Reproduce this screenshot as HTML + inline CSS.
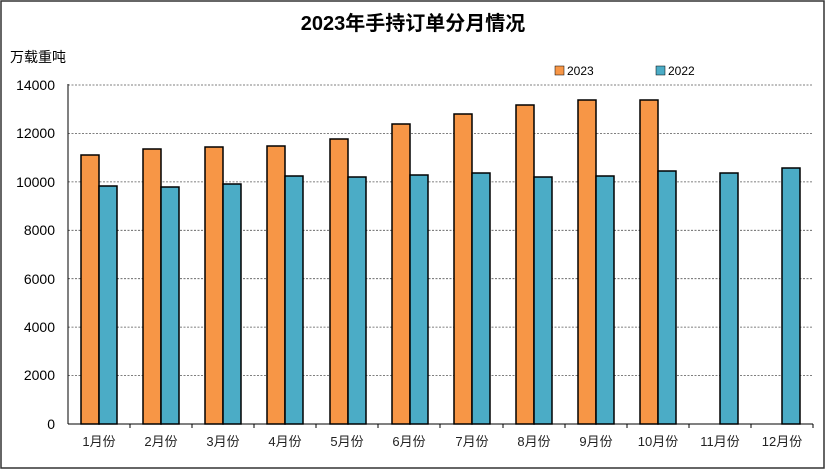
<!DOCTYPE html>
<html><head><meta charset="utf-8"><style>
body{margin:0;background:#fff}
svg{display:block;font-family:"Liberation Sans","Noto Sans CJK SC",sans-serif}
</style></head><body>
<svg width="826" height="469" viewBox="0 0 826 469">
<rect x="1" y="1" width="823" height="467" fill="#fff" stroke="#333" stroke-width="1.5"/>
<text x="413" y="30" text-anchor="middle" font-size="20" font-weight="bold">2023年手持订单分月情况</text>
<text x="10" y="62" font-size="14">万载重吨</text>
<rect x="555" y="66" width="9" height="9" fill="#f79646" stroke="#000" stroke-width="0.5"/>
<text x="567" y="75" font-size="12">2023</text>
<rect x="656" y="66" width="9" height="9" fill="#4bacc6" stroke="#000" stroke-width="0.5"/>
<text x="668" y="75" font-size="12">2022</text>
<g stroke="#555" stroke-width="0.8" stroke-dasharray="2,1.5">
<line x1="68" x2="813" y1="85" y2="85"/><line x1="68" x2="813" y1="133.4" y2="133.4"/>
<line x1="68" x2="813" y1="181.9" y2="181.9"/><line x1="68" x2="813" y1="230.3" y2="230.3"/>
<line x1="68" x2="813" y1="278.7" y2="278.7"/><line x1="68" x2="813" y1="327.1" y2="327.1"/>
<line x1="68" x2="813" y1="375.6" y2="375.6"/>
</g>
<g font-size="14" text-anchor="end">
<text x="55" y="90">14000</text><text x="55" y="138">12000</text><text x="55" y="187">10000</text>
<text x="55" y="235">8000</text><text x="55" y="284">6000</text><text x="55" y="332">4000</text>
<text x="55" y="380">2000</text><text x="55" y="429">0</text>
</g>
<g stroke="#000" stroke-width="1.5">
<rect x="81" y="155" width="18" height="269" fill="#f79646"/><rect x="99" y="186" width="18" height="238" fill="#4bacc6"/>
<rect x="143" y="149" width="18" height="275" fill="#f79646"/><rect x="161" y="187" width="18" height="237" fill="#4bacc6"/>
<rect x="205" y="147" width="18" height="277" fill="#f79646"/><rect x="223" y="184" width="18" height="240" fill="#4bacc6"/>
<rect x="267" y="146" width="18" height="278" fill="#f79646"/><rect x="285" y="176" width="18" height="248" fill="#4bacc6"/>
<rect x="330" y="139" width="18" height="285" fill="#f79646"/><rect x="348" y="177" width="18" height="247" fill="#4bacc6"/>
<rect x="392" y="124" width="18" height="300" fill="#f79646"/><rect x="410" y="175" width="18" height="249" fill="#4bacc6"/>
<rect x="454" y="114" width="18" height="310" fill="#f79646"/><rect x="472" y="173" width="18" height="251" fill="#4bacc6"/>
<rect x="516" y="105" width="18" height="319" fill="#f79646"/><rect x="534" y="177" width="18" height="247" fill="#4bacc6"/>
<rect x="578" y="100" width="18" height="324" fill="#f79646"/><rect x="596" y="176" width="18" height="248" fill="#4bacc6"/>
<rect x="640" y="100" width="18" height="324" fill="#f79646"/><rect x="658" y="171" width="18" height="253" fill="#4bacc6"/>
<rect x="720" y="173" width="18" height="251" fill="#4bacc6"/>
<rect x="782" y="168" width="18" height="256" fill="#4bacc6"/>
</g>
<g stroke="#000" stroke-width="1">
<line x1="68" y1="84" x2="68" y2="424"/><line x1="68" y1="424" x2="813" y2="424"/>
<line x1="130" y1="424" x2="130" y2="428"/><line x1="192" y1="424" x2="192" y2="428"/><line x1="254" y1="424" x2="254" y2="428"/>
<line x1="316" y1="424" x2="316" y2="428"/><line x1="378" y1="424" x2="378" y2="428"/><line x1="440" y1="424" x2="440" y2="428"/>
<line x1="503" y1="424" x2="503" y2="428"/><line x1="565" y1="424" x2="565" y2="428"/><line x1="627" y1="424" x2="627" y2="428"/>
<line x1="689" y1="424" x2="689" y2="428"/><line x1="751" y1="424" x2="751" y2="428"/><line x1="813" y1="424" x2="813" y2="428"/>
</g>
<g font-size="13" text-anchor="middle" fill="#222">
<text x="99" y="446">1月份</text><text x="161" y="446">2月份</text><text x="223" y="446">3月份</text>
<text x="285" y="446">4月份</text><text x="347" y="446">5月份</text><text x="409" y="446">6月份</text>
<text x="472" y="446">7月份</text><text x="534" y="446">8月份</text><text x="596" y="446">9月份</text>
<text x="658" y="446">10月份</text><text x="720" y="446">11月份</text><text x="782" y="446">12月份</text>
</g>
</svg>
</body></html>
